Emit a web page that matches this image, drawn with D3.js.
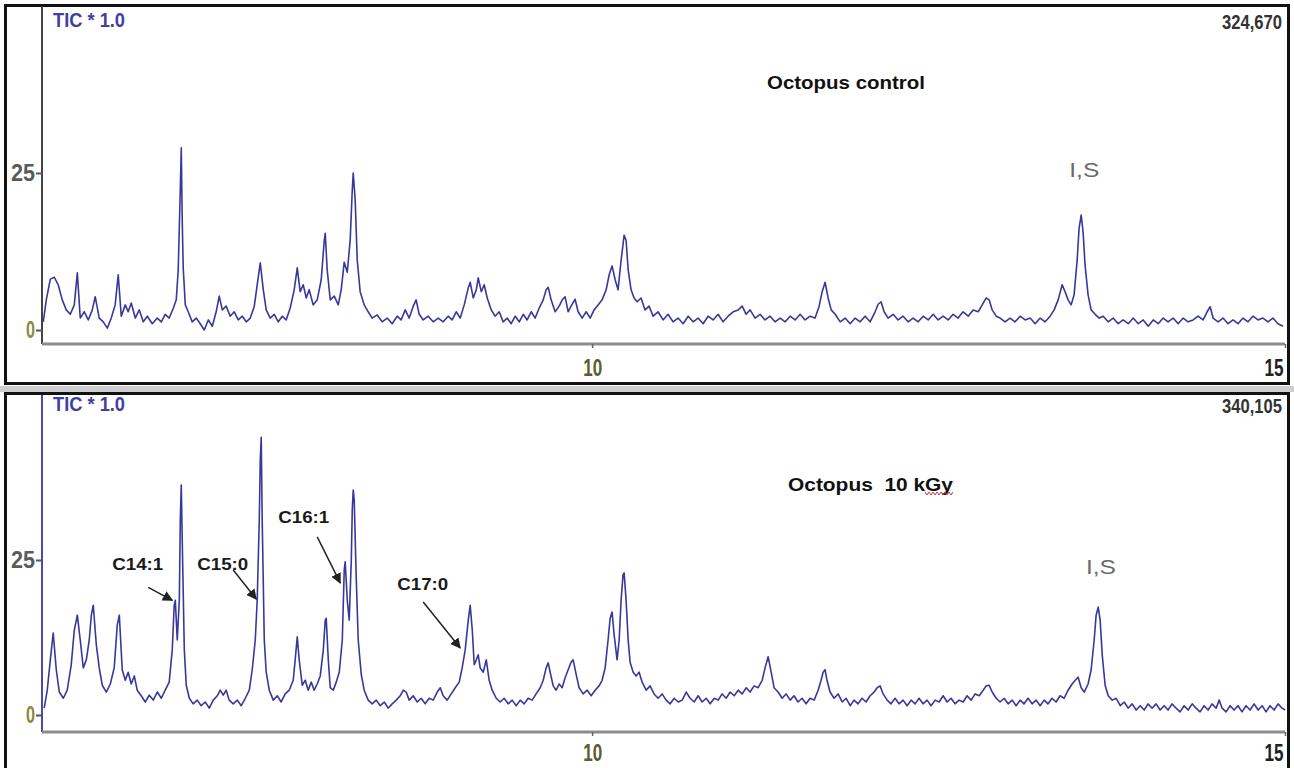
<!DOCTYPE html>
<html>
<head>
<meta charset="utf-8">
<script src="https://cdn.jsdelivr.net/npm/d3@7"></script>
<style>
  body { margin: 0; background: #fff; }
  svg { display: block; }
  .narrow { font-family: "Liberation Sans Narrow", "Liberation Sans", Arial, sans-serif; }
  .sans { font-family: "Liberation Sans", Arial, sans-serif; }
</style>
</head>
<body>
<svg width="1294" height="768"></svg>
<script>
// retention time (min) and TIC (relative units, tick "25")
const controlRT = [6.039,6.061,6.090,6.119,6.147,6.176,6.205,6.234,6.263,6.285,6.306,6.335,6.364,6.393,6.414,6.443,6.472,6.501,6.530,6.558,6.580,6.602,6.631,6.652,6.674,6.703,6.732,6.761,6.790,6.826,6.862,6.891,6.919,6.948,6.978,6.999,7.013,7.028,7.035,7.042,7.049,7.064,7.085,7.114,7.143,7.172,7.201,7.230,7.259,7.287,7.309,7.331,7.359,7.388,7.417,7.446,7.475,7.504,7.533,7.562,7.583,7.605,7.627,7.648,7.677,7.706,7.735,7.764,7.792,7.821,7.850,7.872,7.893,7.915,7.937,7.958,7.987,8.016,8.045,8.067,8.074,8.088,8.110,8.139,8.168,8.189,8.211,8.233,8.254,8.269,8.276,8.290,8.305,8.326,8.355,8.384,8.413,8.449,8.485,8.521,8.557,8.593,8.622,8.651,8.680,8.709,8.730,8.752,8.781,8.817,8.853,8.889,8.925,8.961,8.990,9.019,9.048,9.077,9.106,9.120,9.142,9.164,9.178,9.200,9.221,9.243,9.272,9.300,9.329,9.358,9.387,9.416,9.445,9.474,9.503,9.531,9.560,9.589,9.618,9.647,9.668,9.683,9.704,9.733,9.762,9.784,9.805,9.827,9.848,9.877,9.899,9.928,9.957,9.986,10.014,10.043,10.072,10.101,10.123,10.144,10.166,10.187,10.209,10.231,10.245,10.260,10.281,10.303,10.325,10.353,10.382,10.411,10.440,10.476,10.512,10.548,10.584,10.620,10.657,10.693,10.729,10.765,10.801,10.837,10.873,10.909,10.945,10.981,11.018,11.054,11.083,11.111,11.140,11.176,11.212,11.248,11.284,11.320,11.357,11.393,11.429,11.465,11.501,11.537,11.573,11.609,11.638,11.660,11.681,11.703,11.725,11.754,11.790,11.826,11.862,11.898,11.934,11.970,12.006,12.042,12.064,12.085,12.107,12.136,12.172,12.208,12.244,12.280,12.316,12.353,12.389,12.425,12.461,12.497,12.533,12.569,12.605,12.641,12.677,12.714,12.750,12.786,12.815,12.844,12.865,12.887,12.916,12.944,12.980,13.016,13.052,13.089,13.125,13.161,13.197,13.233,13.269,13.305,13.334,13.363,13.392,13.413,13.435,13.457,13.478,13.500,13.514,13.529,13.543,13.557,13.579,13.601,13.630,13.659,13.688,13.724,13.760,13.796,13.832,13.869,13.905,13.941,13.977,14.013,14.049,14.085,14.121,14.156,14.193,14.229,14.265,14.301,14.337,14.373,14.409,14.438,14.460,14.481,14.517,14.553,14.589,14.625,14.661,14.697,14.733,14.769,14.805,14.841,14.877,14.913,14.949,14.986]
const controlTIC = [1.3,4.8,8.1,8.4,7.2,4.8,3.2,2.5,4.0,9.1,1.9,2.9,1.6,3.2,5.3,1.9,1.3,0.3,1.9,4.0,8.8,2.2,4.0,2.9,4.3,1.9,3.2,1.3,2.2,1.0,1.9,1.3,2.5,1.9,3.5,4.8,9.6,22.3,29.0,17.5,9.9,4.0,2.9,1.3,1.9,1.0,0.0,1.6,0.6,2.9,5.4,3.2,3.8,2.2,2.9,1.6,2.2,1.3,1.9,3.8,7.2,10.7,6.4,3.2,1.9,2.5,1.3,2.2,1.6,3.5,6.4,9.9,6.1,7.2,5.1,6.4,4.0,4.8,8.0,14.3,15.4,9.6,4.8,5.4,4.0,6.4,10.8,9.2,14.3,22.3,25.0,20.7,11.1,6.1,4.0,2.9,1.9,2.4,1.3,1.9,1.0,2.2,1.6,3.2,1.9,3.8,4.8,2.5,1.6,2.2,1.3,1.9,1.3,2.2,1.6,2.9,1.9,4.0,6.7,7.6,5.1,6.4,8.3,6.1,7.2,5.1,3.2,2.2,2.9,1.3,1.9,1.0,2.2,1.3,2.5,1.6,2.9,1.9,3.5,4.8,6.4,6.8,4.8,2.9,3.8,4.8,5.3,2.9,3.8,4.9,2.9,1.9,2.9,1.9,3.2,4.0,4.8,6.4,8.8,10.2,8.0,6.4,11.1,15.1,14.3,9.6,6.4,5.1,4.5,5.1,3.2,3.8,2.2,2.9,1.6,2.5,1.3,1.9,1.0,2.2,1.3,1.9,1.0,2.2,1.6,2.5,1.3,2.2,2.9,3.2,3.8,2.5,3.2,1.9,2.5,1.6,2.2,1.3,1.9,1.3,2.2,1.6,2.5,1.6,2.2,1.9,3.8,6.1,7.6,5.1,3.2,2.5,1.3,1.9,1.0,1.9,1.3,2.2,1.3,2.9,4.1,4.5,2.9,1.9,2.5,1.6,2.2,1.3,1.9,1.3,2.2,1.6,2.5,1.6,2.2,1.6,2.5,1.9,2.9,2.2,3.2,2.9,4.0,5.1,4.8,3.2,2.2,1.9,1.3,1.9,1.3,2.2,1.6,1.9,1.0,1.9,1.3,2.2,3.2,4.8,7.2,6.1,4.8,4.0,5.6,11.1,16.2,18.3,15.6,10.4,5.6,3.2,2.5,1.9,2.2,1.3,1.9,1.0,1.6,1.0,1.9,1.0,1.6,0.6,1.6,1.0,1.9,1.3,1.9,1.0,1.9,1.3,1.6,2.2,1.6,2.9,3.7,1.9,1.3,1.9,1.0,1.6,1.0,1.9,1.3,2.2,1.6,1.9,1.3,1.9,1.0,0.6]

const irradRT = [6.046,6.068,6.090,6.111,6.133,6.155,6.184,6.212,6.241,6.263,6.285,6.306,6.328,6.350,6.371,6.386,6.400,6.422,6.443,6.465,6.494,6.523,6.551,6.573,6.588,6.609,6.631,6.652,6.674,6.696,6.717,6.746,6.775,6.804,6.833,6.862,6.891,6.919,6.948,6.970,6.984,6.992,7.006,7.021,7.028,7.035,7.042,7.057,7.071,7.093,7.121,7.150,7.179,7.208,7.237,7.266,7.295,7.316,7.338,7.359,7.381,7.410,7.439,7.468,7.497,7.526,7.547,7.569,7.583,7.598,7.605,7.612,7.619,7.634,7.648,7.670,7.699,7.728,7.756,7.785,7.814,7.843,7.857,7.872,7.886,7.908,7.930,7.951,7.973,7.994,8.016,8.038,8.060,8.074,8.081,8.096,8.110,8.132,8.153,8.175,8.197,8.211,8.218,8.233,8.247,8.262,8.269,8.276,8.283,8.298,8.312,8.334,8.355,8.384,8.413,8.442,8.471,8.500,8.528,8.557,8.586,8.615,8.637,8.658,8.680,8.709,8.738,8.766,8.795,8.824,8.853,8.882,8.904,8.925,8.954,8.983,9.012,9.041,9.062,9.084,9.106,9.120,9.135,9.149,9.164,9.178,9.192,9.214,9.236,9.257,9.279,9.308,9.336,9.365,9.394,9.423,9.452,9.481,9.510,9.538,9.567,9.596,9.625,9.647,9.668,9.683,9.697,9.719,9.740,9.762,9.784,9.805,9.827,9.848,9.863,9.885,9.906,9.935,9.964,9.993,10.022,10.050,10.072,10.094,10.115,10.130,10.144,10.159,10.180,10.195,10.209,10.223,10.231,10.245,10.260,10.274,10.296,10.317,10.339,10.361,10.390,10.418,10.447,10.476,10.505,10.534,10.563,10.592,10.621,10.650,10.679,10.707,10.736,10.765,10.794,10.823,10.852,10.881,10.910,10.938,10.967,10.996,11.025,11.054,11.083,11.112,11.140,11.169,11.198,11.227,11.248,11.270,11.292,11.313,11.342,11.371,11.400,11.429,11.457,11.486,11.515,11.544,11.573,11.602,11.631,11.652,11.667,11.681,11.695,11.717,11.746,11.775,11.804,11.833,11.862,11.890,11.919,11.948,11.977,12.006,12.035,12.057,12.078,12.100,12.129,12.157,12.186,12.215,12.244,12.273,12.302,12.331,12.359,12.388,12.417,12.446,12.475,12.504,12.533,12.562,12.590,12.619,12.648,12.677,12.706,12.735,12.764,12.793,12.822,12.843,12.865,12.887,12.916,12.944,12.973,13.002,13.031,13.060,13.089,13.117,13.146,13.175,13.204,13.233,13.262,13.290,13.319,13.348,13.377,13.406,13.435,13.464,13.486,13.507,13.529,13.551,13.579,13.601,13.623,13.637,13.652,13.666,13.681,13.702,13.724,13.753,13.782,13.811,13.840,13.868,13.897,13.926,13.955,13.984,14.012,14.041,14.070,14.099,14.128,14.156,14.185,14.214,14.243,14.272,14.301,14.330,14.358,14.387,14.416,14.445,14.474,14.503,14.525,14.546,14.575,14.604,14.633,14.661,14.690,14.719,14.748,14.777,14.806,14.835,14.863,14.892,14.921,14.950,14.979,15.000]
const irradTIC = [1.1,4.0,8.9,13.2,7.3,3.7,2.7,4.0,8.1,13.7,16.1,12.1,7.6,8.9,12.1,16.1,17.7,11.3,7.6,4.8,3.7,5.0,7.6,14.5,16.1,7.3,5.6,6.9,5.0,6.3,4.0,3.1,2.1,3.2,2.4,3.7,2.7,4.0,5.3,10.5,17.7,18.5,12.1,18.5,31.5,37.1,28.2,10.5,4.8,2.7,1.8,2.4,1.5,2.1,1.1,2.4,3.1,4.0,3.2,4.0,2.4,1.8,2.4,1.5,2.7,4.0,7.3,12.1,18.5,31.5,41.1,44.8,31.5,12.1,6.9,4.0,2.4,3.1,2.1,3.4,4.0,5.6,8.9,12.6,8.9,4.8,5.6,4.0,5.3,4.0,5.0,6.3,10.5,15.3,15.6,8.9,4.4,4.0,5.3,6.9,12.1,23.4,24.7,18.5,15.3,25.0,33.1,36.3,34.7,21.8,12.1,6.5,4.0,2.4,1.8,2.4,1.5,2.1,1.1,1.8,2.4,3.1,4.0,3.7,2.4,3.1,2.1,2.7,1.8,2.7,2.4,3.7,4.4,3.1,2.4,3.4,4.4,5.3,7.6,10.5,15.3,17.7,13.7,8.1,8.9,9.7,7.6,6.9,8.9,5.6,4.0,2.7,2.1,2.7,1.8,2.4,1.5,2.4,1.8,2.7,2.4,3.4,4.4,5.6,7.6,8.4,6.9,4.7,4.0,5.0,4.4,6.0,7.3,8.5,8.9,6.5,4.4,3.4,4.0,3.1,4.0,4.7,5.6,7.6,12.1,15.6,16.6,12.9,8.9,12.1,18.5,22.6,22.9,18.5,12.1,8.5,6.9,6.3,6.9,5.3,4.0,4.7,3.4,2.7,3.4,2.4,1.8,2.7,2.1,2.4,3.7,2.7,2.1,3.1,2.1,2.7,1.8,2.7,2.4,3.4,2.7,3.7,3.1,4.0,3.4,4.4,3.7,4.7,4.4,5.6,7.6,9.4,6.9,4.4,3.7,2.7,3.4,2.4,3.1,2.1,2.7,1.8,2.7,2.4,4.0,5.6,6.9,7.3,5.6,3.7,2.7,3.4,2.1,2.7,1.5,2.4,1.8,2.7,2.1,3.1,3.7,4.4,4.7,3.4,2.4,1.8,2.7,1.8,2.4,1.5,2.4,1.8,2.7,1.8,2.4,1.5,2.4,2.1,3.1,2.1,2.7,1.8,2.4,2.1,3.1,2.4,3.4,3.1,4.0,4.7,4.8,3.7,2.7,2.1,2.7,1.8,2.4,1.5,2.4,1.8,2.7,1.8,2.4,1.5,2.4,1.8,2.7,2.1,3.1,2.7,4.0,5.0,5.6,6.1,4.4,3.7,5.0,7.3,12.1,16.1,17.4,15.3,9.7,4.8,3.1,2.4,2.7,1.5,2.1,1.1,1.8,0.8,1.5,0.8,1.8,1.1,1.8,0.8,1.5,0.8,1.8,1.1,0.5,1.5,0.8,1.8,1.1,0.5,1.5,0.8,1.8,1.1,2.4,1.1,0.5,1.5,0.8,1.5,0.5,1.5,0.8,1.8,0.8,1.5,0.5,1.5,0.8,1.8,1.1,0.8]

const panelTitles = ['Octopus control', 'Octopus  10 kGy']
const maxCounts = ['324,670', '340,105']
const isRT = [13.53, 13.65]          // internal standard peak
const xTicks = [10, 15]
const yTicks = [0, 25]

// fatty acid labels on the irradiated sample (arrow tip in data units)
const faLabels = ['C14:1', 'C15:0', 'C16:1', 'C17:0']
const faRT = [6.970, 7.576, 8.182, 9.048]
const faTIC = [18.5, 18.7, 21.3, 10.8]

const traceColor = '#38389c'
const svg = d3.select('svg')

// grey gap between the two windows
svg.append('rect').attr('x', 0).attr('y', 386).attr('width', 1294).attr('height', 6).attr('fill', '#cfcfcf')

const panels = [
  {rt: controlRT, tic: controlTIC, frame: [4, 385], plotTop: 6, axisY: 344, zero: 330, y25: 173,
   yAxisColor: '#444', titleX: 767, titleY: 89, titleW: 158, isY: 177, labelY: 27, tickLabelY: 376},
  {rt: irradRT, tic: irradTIC, frame: [392, 790], plotTop: 395, axisY: 732, zero: 715, y25: 560,
   yAxisColor: '#4a4aa8', titleX: 788, titleY: 491, titleW: 165, isY: 574, labelY: 411, tickLabelY: 761}
]

const x = d3.scaleLinear().domain([6.03, 15]).range([42, 1285])

panels.forEach((p, i) => {
  const g = svg.append('g')
  const y = d3.scaleLinear().domain([0, 25]).range([p.zero, p.y25])

  g.append('rect')
    .attr('x', 5.5).attr('y', p.frame[0] + 1.5)
    .attr('width', 1283).attr('height', p.frame[1] - p.frame[0] - 3)
    .attr('fill', '#fff').attr('stroke', '#111').attr('stroke-width', 3)

  // axes
  g.append('line').attr('x1', 42).attr('x2', 42).attr('y1', p.plotTop).attr('y2', p.axisY)
    .attr('stroke', p.yAxisColor).attr('stroke-width', 2)
  g.append('line').attr('x1', 42).attr('x2', x(15)).attr('y1', p.axisY).attr('y2', p.axisY)
    .attr('stroke', '#8c8c8c').attr('stroke-width', 3)

  const yAxis = g.append('g').attr('transform', 'translate(42,0)')
    .call(d3.axisLeft(y).tickValues(yTicks).tickSize(6).tickFormat(d3.format('d')))
  yAxis.select('.domain').remove()
  yAxis.selectAll('.tick line').attr('stroke', '#555').attr('stroke-width', 2)
  yAxis.selectAll('.tick text')
    .attr('class', 'narrow').attr('x', -7)
    .attr('font-size', 24).attr('font-weight', 'bold')
    .attr('fill', d => d == 0 ? '#8a8a3c' : '#5a5a5a')
    .attr('textLength', d => d == 0 ? 9 : 24).attr('lengthAdjust', 'spacingAndGlyphs')

  const xAxis = g.append('g').attr('transform', `translate(0,${p.axisY})`)
    .call(d3.axisBottom(x).tickValues(xTicks).tickSize(4).tickFormat(d3.format('d')))
  xAxis.select('.domain').remove()
  xAxis.selectAll('.tick line').attr('stroke', '#666').attr('stroke-width', 1.5)
  xAxis.selectAll('.tick text')
    .attr('class', 'narrow').attr('y', p.tickLabelY - p.axisY).attr('dy', 0)
    .attr('font-size', 24).attr('font-weight', 'bold')
    .attr('fill', d => d == 10 ? '#5c5c30' : '#222')
    .attr('text-anchor', d => d == 15 ? 'end' : 'middle')
    .attr('x', d => d == 15 ? -2 : 0)
    .attr('textLength', 19).attr('lengthAdjust', 'spacingAndGlyphs')

  // chromatogram trace
  const pts = p.rt.map((t, k) => [t, p.tic[k]])
  const line = d3.line().x(d => x(d[0])).y(d => y(d[1]))
  g.append('path').datum(pts)
    .attr('d', line).attr('fill', 'none')
    .attr('stroke', traceColor).attr('stroke-width', 1.6).attr('stroke-linejoin', 'round')

  // header texts
  g.append('text').attr('class', 'narrow').attr('x', 53).attr('y', p.labelY)
    .attr('font-size', 20).attr('font-weight', 'bold').attr('fill', '#4040a0')
    .attr('textLength', 72).attr('lengthAdjust', 'spacingAndGlyphs')
    .text('TIC * 1.0')
  g.append('text').attr('class', 'narrow').attr('x', 1282).attr('y', p.labelY + 2)
    .attr('text-anchor', 'end')
    .attr('font-size', 20).attr('font-weight', 'bold').attr('fill', '#333')
    .attr('textLength', 60).attr('lengthAdjust', 'spacingAndGlyphs')
    .text(maxCounts[i])

  g.append('text').attr('class', 'sans').attr('x', p.titleX).attr('y', p.titleY)
    .attr('font-size', 19).attr('font-weight', 'bold').attr('fill', '#111')
    .style('white-space', 'pre')
    .attr('textLength', p.titleW).attr('lengthAdjust', 'spacingAndGlyphs')
    .text(panelTitles[i])

  g.append('text').attr('class', 'narrow').attr('x', x(isRT[i]) + 3).attr('y', p.isY)
    .attr('text-anchor', 'middle')
    .attr('font-size', 21).attr('fill', '#6a6a6a')
    .attr('textLength', 30).attr('lengthAdjust', 'spacingAndGlyphs')
    .text('I,S')

  if (i == 1) {
    // spell-check squiggle under "kGy"
    const wave = d3.range(0, 15).map(k => [925 + k * 2, 493 + (k % 2 ? 2 : -1)])
    g.append('path').attr('d', d3.line()(wave))
      .attr('fill', 'none').attr('stroke', '#c83a3a').attr('stroke-width', 1)

    // arrow head
    svg.append('defs').append('marker')
      .attr('id', 'arr').attr('viewBox', '0 0 10 10').attr('refX', 9).attr('refY', 5)
      .attr('markerWidth', 7).attr('markerHeight', 7).attr('orient', 'auto')
      .append('path').attr('d', 'M0,0L10,5L0,10z').attr('fill', '#222')

    const textOff = [[-60, -30], [-59, -29], [-62, -60], [-63, -58]]
    const tailOff = [[-24, -13], [-23, -29], [-23, -46], [-37, -46]]
    faLabels.forEach((lab, k) => {
      const tx = x(faRT[k]), ty = y(faTIC[k])
      g.append('line')
        .attr('x1', tx + tailOff[k][0]).attr('y1', ty + tailOff[k][1])
        .attr('x2', tx).attr('y2', ty)
        .attr('stroke', '#222').attr('stroke-width', 1.5).attr('marker-end', 'url(#arr)')
      g.append('text').attr('class', 'sans')
        .attr('x', tx + textOff[k][0]).attr('y', ty + textOff[k][1])
        .attr('font-size', 17).attr('font-weight', 'bold').attr('fill', '#1a1a1a')
        .attr('textLength', 51).attr('lengthAdjust', 'spacingAndGlyphs')
        .text(lab)
    })
  }
})
</script>
</body>
</html>
